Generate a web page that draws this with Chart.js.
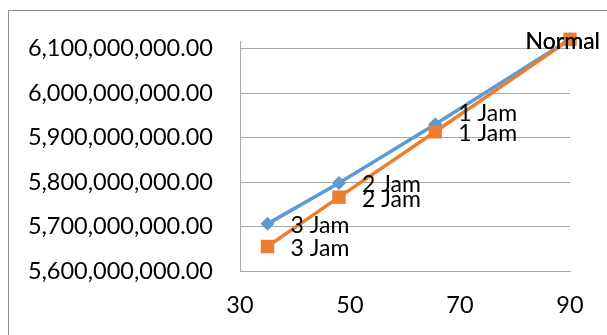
<!DOCTYPE html>
<html>
<head>
<meta charset="utf-8">
<script src="https://cdn.jsdelivr.net/npm/chart.js@4/dist/chart.umd.min.js"></script>
<style>
  html, body { margin: 0; padding: 0; background: #fff; overflow: hidden; }
  #wrap { position: relative; width: 607px; height: 335px; }
</style>
</head>
<body>
<div id="wrap"><canvas id="c" width="607" height="335"></canvas></div>
<script>
// Horizontal positions of the four measurements
const xValues = [35, 48, 65.5, 90];
// First series (blue diamonds)
const seriesBlue = [5706000000, 5798000000, 5930000000, 6121000000];
// Second series (orange squares)
const seriesOrange = [5655000000, 5766000000, 5913000000, 6121000000];
// Text written next to each point
const pointLabels = ['3 Jam', '2 Jam', '1 Jam', 'Normal'];
// Value axis ticks and range
const yTickValues = [5600000000, 5700000000, 5800000000, 5900000000, 6000000000, 6100000000];
const yMin = 5600000000, yMax = 6117000000;
// Horizontal axis ticks and range
const xTickValues = [30, 50, 70, 90];
const xMin = 30, xMax = 90;

const FONT = 'Lato, "DejaVu Sans", sans-serif';
const TEXT = '#000000';
const GRID = '#a6a6a6';

const toPoints = (vals) => vals.map((v, i) => ({ x: xValues[i], y: v }));

// Outer frame of the chart object
const framePlugin = {
  id: 'frame',
  beforeDraw(chart) {
    const ctx = chart.ctx;
    ctx.save();
    ctx.fillStyle = '#ffffff';
    ctx.fillRect(0, 0, chart.width, chart.height);
    ctx.strokeStyle = '#8c8c8c';
    ctx.lineWidth = 1;
    ctx.strokeRect(8.5, 10.5, 800, 500);
    ctx.restore();
  }
};

// Writes the point labels to the right of each marker
const pointLabelPlugin = {
  id: 'pointLabels',
  afterDatasetsDraw(chart, args, opts) {
    const ctx = chart.ctx;
    ctx.save();
    ctx.font = opts.size + 'px ' + FONT;
    ctx.fillStyle = TEXT;
    ctx.textAlign = 'left';
    ctx.textBaseline = 'middle';
    const limit = chart.width - 7;
    chart.data.datasets.forEach((ds, di) => {
      const meta = chart.getDatasetMeta(di);
      const shifts = ds.labelShift || {};
      meta.data.forEach((pt, i) => {
        const text = pointLabels[i];
        const w = ctx.measureText(text).width;
        let x = pt.x + opts.gap;
        if (x + w > limit) x = limit - w;
        const y = pt.y + opts.drop + (shifts[i] || 0);
        ctx.fillText(text, x, y);
      });
    });
    ctx.restore();
  }
};

new Chart(document.getElementById('c'), {
  type: 'line',
  data: {
    datasets: [
      {
        label: 'Seri 1',
        data: toPoints(seriesBlue),
        borderColor: '#5b9bd5',
        backgroundColor: '#5b9bd5',
        borderWidth: 3.5,
        pointStyle: 'rectRot',
        pointRadius: 7,
        pointBorderWidth: 0,
        order: 1,
        labelShift: { 2: -13 }
      },
      {
        label: 'Seri 2',
        data: toPoints(seriesOrange),
        borderColor: '#ed7d31',
        backgroundColor: '#ed7d31',
        borderWidth: 3.5,
        pointStyle: 'rect',
        pointRadius: 9.5,
        pointBorderWidth: 0,
        order: 0
      }
    ]
  },
  options: {
    responsive: false,
    animation: false,
    clip: false,
    layout: { padding: { top: 41, right: 37, left: 0, bottom: 0 } },
    plugins: {
      legend: { display: false },
      tooltip: { enabled: false },
      pointLabels: { gap: 23, drop: 2, size: 23 }
    },
    scales: {
      x: {
        type: 'linear',
        min: xMin,
        max: xMax,
        grid: { display: false, drawTicks: false },
        border: { display: true, color: GRID, width: 1 },
        ticks: {
          padding: 20,
          color: TEXT,
          font: { family: FONT, size: 23.5 }
        },
        afterBuildTicks(scale) {
          scale.ticks = xTickValues.map(v => ({ value: v }));
        },
        afterFit(scale) { scale.height = 64; }
      },
      y: {
        type: 'linear',
        min: yMin,
        max: yMax,
        grid: { color: GRID, lineWidth: 1, drawTicks: false },
        border: { display: true, color: GRID, width: 1 },
        ticks: {
          padding: 27,
          color: TEXT,
          autoSkip: false,
          font: { family: FONT, size: 23.5 },
          callback: (v) => Number(v).toLocaleString('en-US', { minimumFractionDigits: 2, maximumFractionDigits: 2 })
        },
        afterBuildTicks(scale) {
          scale.ticks = yTickValues.map(v => ({ value: v }));
        },
        afterFit(scale) { scale.width = 240; }
      }
    }
  },
  plugins: [framePlugin, pointLabelPlugin]
});
</script>
</body>
</html>
